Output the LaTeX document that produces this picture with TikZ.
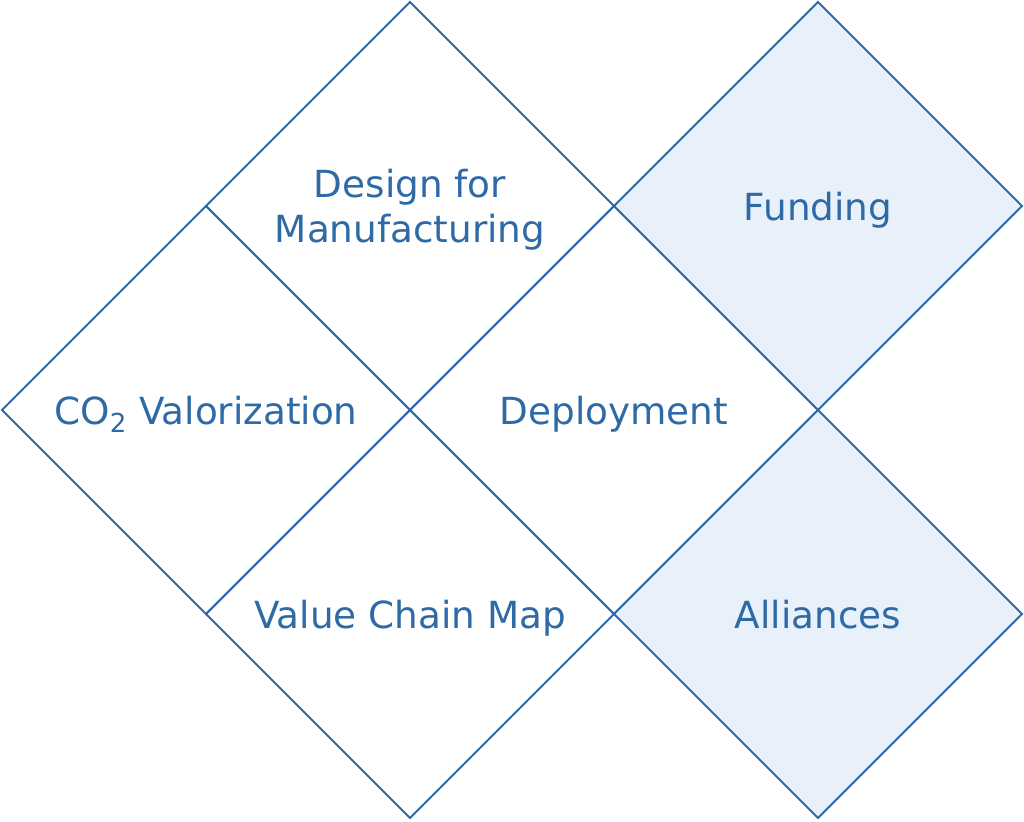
\documentclass[tikz,border=0pt]{standalone}
\usepackage{fontspec}
\setmainfont{DejaVu Sans}
\usepackage{tikz}
\usetikzlibrary{positioning,shapes.geometric}
\definecolor{tileblue}{RGB}{46,106,166}
\definecolor{tilefill}{RGB}{232,240,250}
\tikzset{
    tile/.style={diamond, draw=tileblue, line width=1.5pt, inner sep=0pt, outer sep=0pt, aspect=1, minimum width=306pt, minimum height=306pt, align=center, text depth=0pt, text=tileblue, font=\fontsize{28}{34}\selectfont},
    tilelit/.style={tile, fill=tilefill}
}

\begin{document}
\begin{tikzpicture}[x=0.75pt, y=-0.75pt]
        \useasboundingbox (0,0) rectangle (1024,821);
        \node[tile] (design) at (410,206) {Design for\\Manufacturing};
        \node[tile, anchor=north] (valor) at (design.west) {CO\textsubscript{2} Valorization};
        \node[tile, anchor=north] (deploy) at (design.east) {Deployment};
        \node[tile, anchor=north] (chain) at (valor.east) {Value Chain Map};
        \node[tilelit, anchor=west] (funding) at (design.east) {Funding};
        \node[tilelit, anchor=north] (alliances) at (funding.south) {Alliances};
    \end{tikzpicture}
\end{document}
